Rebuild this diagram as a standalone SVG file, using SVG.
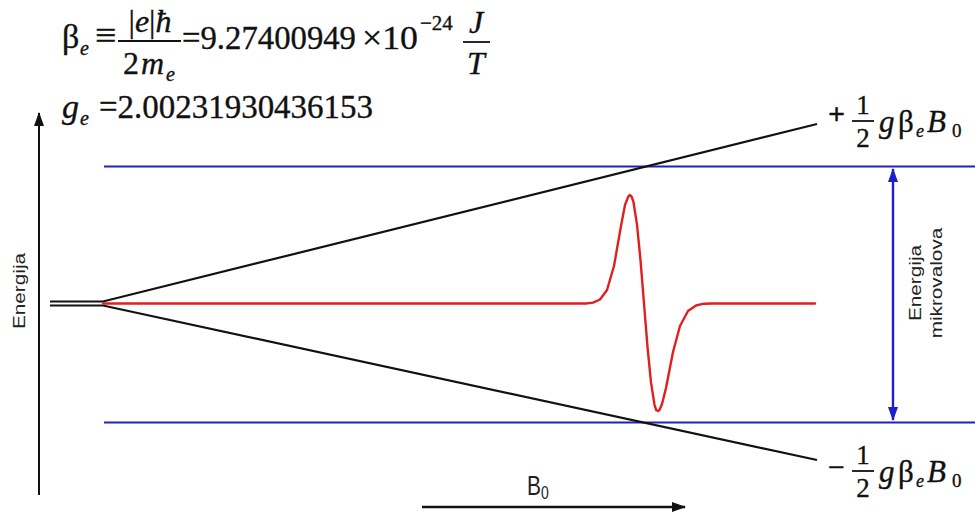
<svg xmlns="http://www.w3.org/2000/svg" width="975" height="513" viewBox="0 0 975 513">
<defs>
<style>
.serif{font-family:'Liberation Serif','Tinos','Nimbus Roman','Nimbus Roman No9 L','FreeSerif','Noto Serif','DejaVu Serif','Times New Roman',Times,serif;fill:#111;stroke:#111;stroke-width:0.35}
.it{font-style:italic}
.sans{font-family:'Liberation Sans',Arial,sans-serif;fill:#222}
.blk{stroke:#111;fill:none}
.blue{stroke:#1f1fc8;fill:none}
.bar{stroke:#111;stroke-width:1.8}
</style>
<marker id="ahBlk" viewBox="0 0 14 10" refX="13" refY="5" markerWidth="14" markerHeight="10" markerUnits="userSpaceOnUse" orient="auto">
<path d="M0,0 L14,5 L0,10 Z" fill="#111"/>
</marker>
<marker id="ahBlue" viewBox="0 0 14 10" refX="13" refY="5" markerWidth="14" markerHeight="10" markerUnits="userSpaceOnUse" orient="auto-start-reverse">
<path d="M0,0 L14,5 L0,10 Z" fill="#1f1fc8"/>
</marker>
</defs>
<rect width="975" height="513" fill="#fff"/>

<g id="formula-beta">
<text class="serif" x="62" y="48" font-size="34">β</text>
<text class="serif it" x="80" y="55" font-size="20">e</text>
<text class="serif" x="95" y="48" font-size="38">≡</text>
<text class="serif" x="150" y="32" font-size="32" text-anchor="middle">|<tspan class="it">e</tspan>|<tspan class="it">ħ</tspan></text>
<line class="bar" x1="118" y1="41" x2="181" y2="41"/>
<text class="serif" x="123" y="74" font-size="32">2</text>
<text class="serif it" x="141" y="74" font-size="32">m</text>
<text class="serif it" x="166" y="81" font-size="20">e</text>
<text class="serif" x="182" y="49" font-size="34" textLength="174" lengthAdjust="spacingAndGlyphs">=9.27400949</text>
<text class="serif" x="362" y="49" font-size="34" textLength="56" lengthAdjust="spacingAndGlyphs">×10</text>
<text class="serif" x="420" y="30" font-size="21">−24</text>
<text class="serif it" x="476" y="33" font-size="32" text-anchor="middle">J</text>
<line class="bar" x1="463" y1="42" x2="490" y2="42"/>
<text class="serif it" x="476" y="74" font-size="32" text-anchor="middle">T</text>
</g>

<g id="formula-g">
<text class="serif it" x="62" y="118" font-size="34">g</text>
<text class="serif it" x="80" y="125" font-size="20">e</text>
<text class="serif" x="99" y="118" font-size="34" textLength="274" lengthAdjust="spacingAndGlyphs">=2.00231930436153</text>
</g>

<g id="energy-axis-label">
<text class="sans" font-size="17" text-anchor="middle" transform="translate(25,291) scale(1,1.22) rotate(-90)">Energija</text>
</g>

<g id="upper-level-label">
<text class="serif" x="828" y="124" font-size="30" font-weight="bold">+</text>
<text class="serif" x="863" y="114" font-size="27" text-anchor="middle">1</text>
<line class="bar" x1="852" y1="121" x2="874" y2="121"/>
<text class="serif" x="863" y="147" font-size="27" text-anchor="middle">2</text>
<text class="serif it" x="879" y="132" font-size="31">g</text>
<text class="serif" x="898" y="132" font-size="31">β</text>
<text class="serif it" x="916" y="137" font-size="18">e</text>
<text class="serif it" x="927" y="132" font-size="31">B</text>
<text class="serif" x="952" y="137" font-size="19">0</text>
</g>

<g id="lower-level-label">
<text class="serif" x="828" y="477" font-size="30">−</text>
<text class="serif" x="863" y="464" font-size="27" text-anchor="middle">1</text>
<line class="bar" x1="852" y1="471" x2="874" y2="471"/>
<text class="serif" x="863" y="497" font-size="27" text-anchor="middle">2</text>
<text class="serif it" x="879" y="482" font-size="31">g</text>
<text class="serif" x="898" y="482" font-size="31">β</text>
<text class="serif it" x="916" y="487" font-size="18">e</text>
<text class="serif it" x="927" y="482" font-size="31">B</text>
<text class="serif" x="952" y="487" font-size="19">0</text>
</g>

<g id="microwave-label">
<text class="sans" font-size="17" text-anchor="middle" transform="translate(921,283) scale(1,1.22) rotate(-90)">Energija</text>
<text class="sans" font-size="17" text-anchor="middle" transform="translate(942,283) scale(1,1.22) rotate(-90)">mikrovalova</text>
</g>

<g id="b0-label">
<text class="sans" font-size="21" transform="translate(527,495) scale(1,1.3)">B<tspan font-size="14" dy="3">0</tspan></text>
</g>

<g id="resonance-lines">
<line class="blue" x1="104" y1="166.5" x2="975" y2="166.5" stroke-width="2"/>
<line class="blue" x1="104" y1="422.5" x2="975" y2="422.5" stroke-width="2"/>
</g>

<g id="energy-levels">
<path class="blk" stroke-width="2.2" d="M50,301.5 L103,301.5 L817,124"/>
<path class="blk" stroke-width="2.2" d="M50,305.5 L103,305.5 L817,460"/>
</g>

<g id="epr-signal">
<polyline fill="none" stroke="#e02020" stroke-width="2.4" stroke-linejoin="round" stroke-linecap="round" points="103,303.5 586,303.5 593,302.6 600,299.5 607,290 614,266 621,226 625,205 628.25,196.6 630,195 631.75,196.8 633.5,202.2 637,224.6 640.5,260.2 644,303.5 647.5,346.8 651,382.4 654.5,404.8 656.25,410.2 658,411 659.75,409.5 662,404 666,388 673,352 680,326 688,311 696,305.5 704,303.7 712,303.5 815,303.5"/>
</g>

<g id="connectors">
<line class="blk" x1="39" y1="495" x2="39" y2="113" stroke-width="2" marker-end="url(#ahBlk)"/>
<line class="blk" x1="422" y1="507" x2="685" y2="507" stroke-width="2.4" marker-end="url(#ahBlk)"/>
<line class="blue" x1="893" y1="420" x2="893" y2="169" stroke-width="2.4" marker-start="url(#ahBlue)" marker-end="url(#ahBlue)"/>
</g>
</svg>
